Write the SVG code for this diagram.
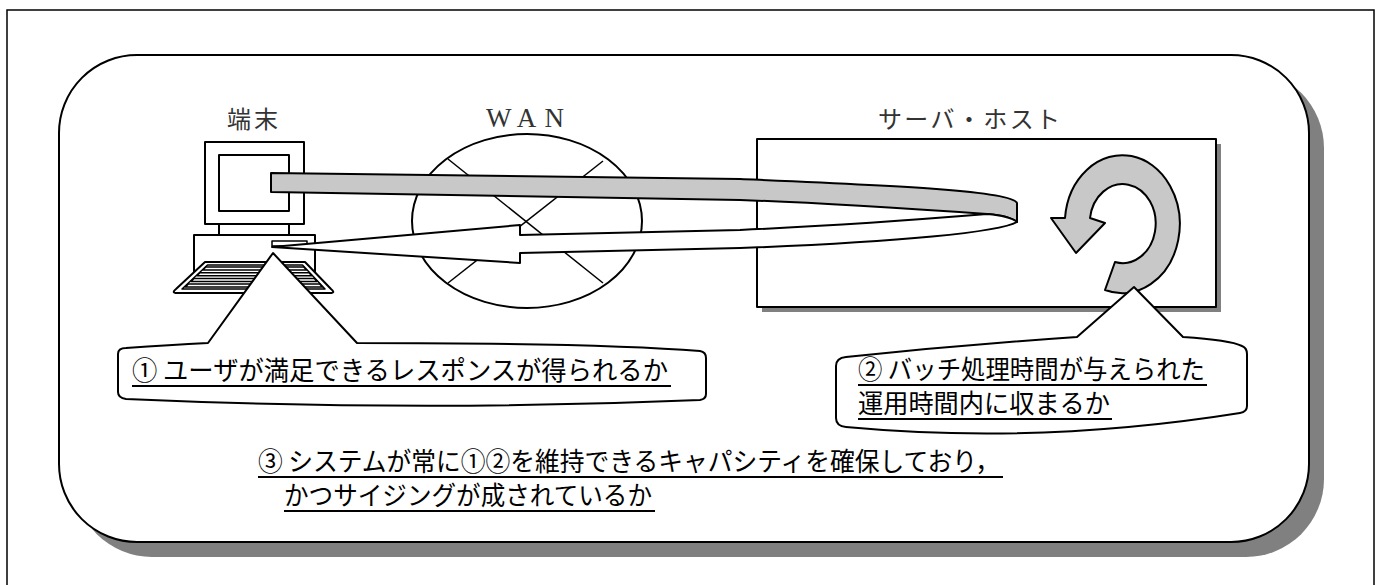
<svg xmlns="http://www.w3.org/2000/svg" width="1381" height="585" viewBox="0 0 1381 585">
  <style>
    .ln { stroke: #000; stroke-width: 2; fill: #fff; stroke-linejoin: round; }
    .th { stroke: #000; stroke-width: 1.5; fill: #fff; stroke-linejoin: round; }
    .shadow { fill: #808080; stroke: none; }
    .band { fill: #c8c8c8; stroke: #000; stroke-width: 2; stroke-linejoin: round; }
    .lbl { font-family: "Noto Sans CJK JP", "Noto Sans", sans-serif; font-size: 24px; fill: #333; }
    .lat { font-family: "Liberation Serif", serif; font-size: 27px; fill: #333; }
    .cap { font-family: "Noto Sans CJK JP", "Noto Sans", sans-serif; font-size: 26px; fill: #000; }
    .ul { stroke: #000; stroke-width: 2; }
  </style>

  <!-- page frame -->
  <rect x="7" y="10" width="1367" height="600" fill="none" stroke="#000" stroke-width="1.5"/>

  <!-- system boundary panel with drop shadow -->
  <g id="panel">
    <rect class="shadow" x="74" y="70" width="1250" height="487" rx="78" ry="78"/>
    <rect class="ln" x="59" y="55" width="1250" height="487" rx="78" ry="78"/>
  </g>

  <!-- terminal -->
  <g id="terminal">
    <text class="lbl" x="227" y="128" textLength="51" lengthAdjust="spacing">端末</text>
    <rect class="ln" x="205" y="142" width="99" height="82"/>
    <rect class="ln" x="219" y="155" width="70" height="56"/>
    <line class="ln" x1="219" y1="224" x2="219" y2="235"/>
    <line class="ln" x1="289" y1="224" x2="289" y2="235"/>
    <rect class="ln" x="194" y="235" width="121" height="40"/>
    <rect class="th" x="272" y="241" width="35" height="5"/>
    <!-- keyboard -->
    <path class="ln" d="M205,262 L305,262 L331,289 Q336,293 330,293 L177,293 Q171,293 176,289 Z"/>
    <path class="th" d="M207.5,265 L302.5,265 L325,289 L182,289 Z"/>
    <path class="th" d="M205.9,267 L303.7,267 L306.5,270 L202.8,270 Z"/>
    <path class="th" d="M200,272.7 L309,272.7 L311.7,275.7 L196.9,275.7 Z"/>
    <path class="th" d="M194.1,278.4 L314.3,278.4 L317,281.4 L191,281.4 Z"/>
    <path class="th" d="M188.2,284.1 L319.6,284.1 L322.4,287.1 L185.1,287.1 Z"/>
  </g>

  <!-- WAN cloud -->
  <g id="wan">
    <text class="lat" x="486" y="127" textLength="78" lengthAdjust="spacing">WAN</text>
    <ellipse class="ln" cx="527" cy="221" rx="115" ry="87"/>
    <line class="th" x1="448" y1="159" x2="603" y2="283"/>
    <line class="th" x1="603" y1="161" x2="448" y2="283"/>
  </g>

  <!-- server / host -->
  <g id="server">
    <text class="lbl" x="878" y="128" textLength="182" lengthAdjust="spacing">サーバ・ホスト</text>
    <rect class="shadow" x="762" y="144" width="459" height="168"/>
    <rect class="ln" x="757" y="139" width="459" height="168"/>
    <!-- batch processing loop -->
    <path class="band" d="M1105,290 A57.5,69 0 1 0 1065,218 L1051,218 L1076,253 L1105,223 L1090,218 A33,39.5 0 1 1 1115,262 Z"/>
  </g>

  <!-- request / response flow -->
  <g id="connectors">
    <path class="band" d="M271,173 L740,179 C880,185 1012,190 1017,203 L1017,222 Q1010,216 987,214 C900,208 800,202 740,200 L271,192 Z"/>
    <path class="ln" d="M520,235 L740,230 C850,225 950,217 987,214 Q1010,216 1017,222 C1000,232 900,242 740,248 L520,253 L520,263 L272,247 L520,225 Z"/>
  </g>

  <!-- callout 1 -->
  <g id="callout1">
    <path class="ln" d="M118,354 Q118,348 126,348 Q170,345 208,343 L273,253 L357,343 Q600,343 700,351 Q706,352 706,358 L706,394 Q706,399 700,400 Q420,412 126,399 Q118,398 118,392 Z"/>
    <text class="cap" x="132" y="380" textLength="536" lengthAdjust="spacingAndGlyphs">① ユーザが満足できるレスポンスが得られるか</text>
    <line class="ul" x1="132" y1="386" x2="671" y2="386"/>
  </g>

  <!-- callout 2 -->
  <g id="callout2">
    <path class="ln" d="M836,366 Q836,358 846,357 Q960,345 1077,337 L1134,287 L1183,337 Q1230,340 1242,346 Q1247,348 1247,354 L1247,406 Q1247,412 1240,413 Q1040,445 846,427 Q836,426 836,418 Z"/>
    <text class="cap" x="858" y="379" textLength="347" lengthAdjust="spacingAndGlyphs">② バッチ処理時間が与えられた</text>
    <line class="ul" x1="858" y1="385" x2="1207" y2="385"/>
    <text class="cap" x="858" y="413" textLength="252" lengthAdjust="spacingAndGlyphs">運用時間内に収まるか</text>
    <line class="ul" x1="858" y1="419" x2="1112" y2="419"/>
  </g>

  <!-- overall capacity question -->
  <g id="summary">
    <text class="cap" x="258" y="471" textLength="742" lengthAdjust="spacingAndGlyphs">③ システムが常に①②を維持できるキャパシティを確保しており，</text>
    <line class="ul" x1="258" y1="477" x2="1003" y2="477"/>
    <text class="cap" x="284" y="505" textLength="368" lengthAdjust="spacingAndGlyphs">かつサイジングが成されているか</text>
    <line class="ul" x1="284" y1="511" x2="655" y2="511"/>
  </g>
</svg>
